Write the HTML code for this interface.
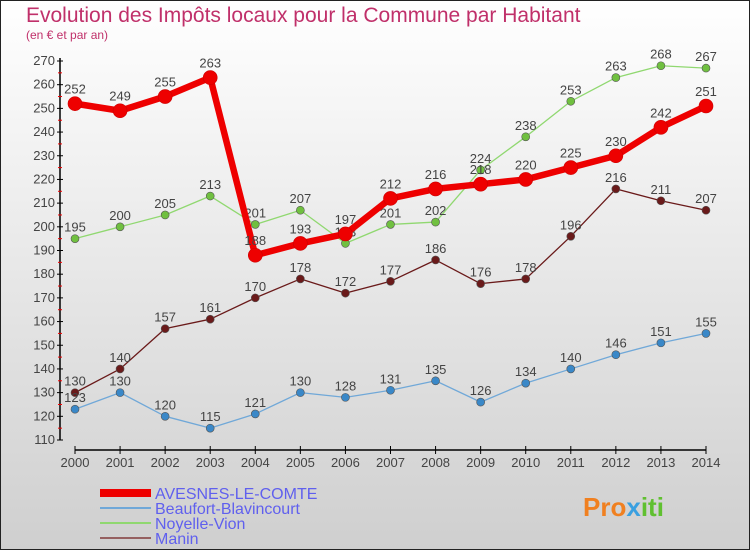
<!DOCTYPE html>
<html><head><meta charset="utf-8"><style>
body{margin:0;width:750px;height:550px;overflow:hidden}
svg{display:block;font-family:"Liberation Sans","DejaVu Sans",sans-serif}
</style></head><body>
<svg id="c" width="750" height="550">
<defs><linearGradient id="bg" x1="0" y1="0" x2="0" y2="1"><stop offset="0" stop-color="#ffffff"/><stop offset="1" stop-color="#cfcfcf"/></linearGradient></defs>
<rect x="0.5" y="0.5" width="749" height="549" fill="url(#bg)" stroke="#222"/>
<text x="26" y="22" font-size="21" fill="#c0306a">Evolution des Impôts locaux pour la Commune par Habitant</text>
<text x="26" y="39" font-size="12" fill="#c0306a">(en € et par an)</text>
<g id="axes"></g><g id="series"></g><g id="legend"></g>
<text x="583" y="516" font-size="26" font-weight="bold" fill="#f08020">Pro<tspan fill="#3aa0e0">x</tspan><tspan fill="#60c030">iti</tspan></text>
</svg>
<script>
const years=["2000","2001","2002","2003","2004","2005","2006","2007","2008","2009","2010","2011","2012","2013","2014"];
const yTicks=[110,120,130,140,150,160,170,180,190,200,210,220,230,240,250,260,270];
const avesnes=[252,249,255,263,188,193,197,212,216,218,220,225,230,242,251];
const beaufort=[123,130,120,115,121,130,128,131,135,126,134,140,146,151,155];
const noyelle=[195,200,205,213,201,207,193,201,202,224,238,253,263,268,267];
const manin=[130,140,157,161,170,178,172,177,186,176,178,196,216,211,207];
const names=["AVESNES-LE-COMTE","Beaufort-Blavincourt","Noyelle-Vion","Manin"];
const NS="http://www.w3.org/2000/svg";
function x(i){return 75+i*(631/(years.length-1));}
function y(v){return 440-(v-110)*(379/160);}
function mk(t,a,p){const e=document.createElementNS(NS,t);for(const k in a)e.setAttribute(k,a[k]);p.appendChild(e);return e;}
const ax=document.getElementById('axes');
const yl=mk('line',{x1:60,y1:58,x2:60,y2:440,stroke:'#000','stroke-width':1.5},ax);


yTicks.forEach((v,i)=>{
 mk('line',{x1:57,y1:y(v),x2:63,y2:y(v),stroke:'#000'},ax);
 if(i<yTicks.length-1) mk('line',{x1:58,y1:y(v+5),x2:62,y2:y(v+5),stroke:'#e00'},ax);
 const t=mk('text',{x:55,y:y(v)+4,'font-size':13,'text-anchor':'end',fill:'#444'},ax);t.textContent=v;
 
 
});
const xl=mk('line',{x1:75,y1:450,x2:706,y2:450,stroke:'#000','stroke-width':1.5},ax);


years.forEach((yr,i)=>{
 mk('line',{x1:x(i),y1:446,x2:x(i),y2:454,stroke:'#000'},ax);
 const t=mk('text',{x:x(i),y:467,'font-size':13,'text-anchor':'middle',fill:'#444'},ax);t.textContent=yr;
 
 
});
const sg=document.getElementById('series');
const defs=[[manin,'#6a1a1a','#6a1a1a',1.3,4,'manin'],[noyelle,'#90d870','#70c040',1.3,4,'noyelle-vion'],[beaufort,'#70a8d8','#3a88c8',1.3,4,'beaufort-blavincourt'],[avesnes,'#ee0000','#ee0000',6.5,7,'avesnes-le-comte']];
defs.forEach(([d,lc,pc,w,r,n])=>{
 const g=mk('g',{},sg);
 
 
 const pl=mk('polyline',{points:d.map((v,i)=>x(i)+','+y(v)).join(' '),fill:'none',stroke:lc,'stroke-width':w,'stroke-linejoin':'round'},g);
 
 
 d.forEach((v,i)=>{
  const c=mk('circle',{cx:x(i),cy:y(v),r:r,fill:pc,stroke:r>4?'#c00':'#555','stroke-width':0.6},g);
  
  
  const t=mk('text',{x:x(i),y:y(v)-(r>4?10:7),'font-size':13,'text-anchor':'middle',fill:'#444'},g);t.textContent=v;
  
  
 });
});
const lg=document.getElementById('legend');
const lcols=['#ee0000','#70a8d8','#90d870','#956060'],lw=[8,2,2,2];
names.forEach((n,i)=>{
 const yy=493+i*15;
 const l=mk('line',{x1:100,y1:yy,x2:151,y2:yy,stroke:lcols[i],'stroke-width':lw[i]},lg);
 
 
 const t=mk('text',{x:155,y:yy+6,'font-size':16,fill:'#6060ee'},lg);t.textContent=n;
 
 
});
</script>
</body></html>
